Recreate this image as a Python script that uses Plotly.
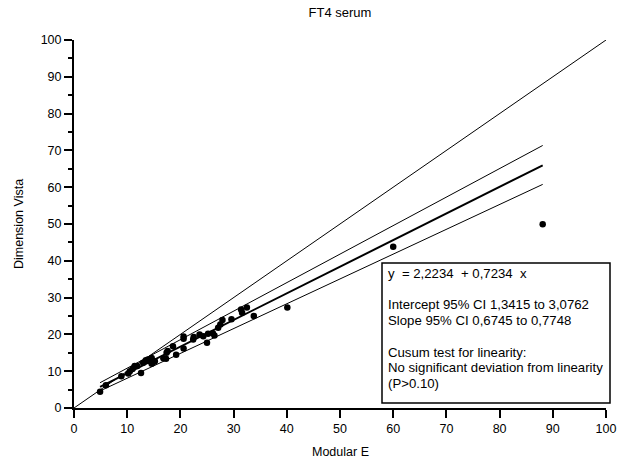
import plotly.graph_objects as go

modular_e = [4.9, 6.0, 8.9, 10.2, 10.5, 11.0, 11.4, 11.9, 12.6, 13.0, 13.5, 13.9,
             14.3, 14.6, 14.8, 15.2, 14.6, 16.8, 17.3, 17.4, 17.6, 18.6, 19.2,
             20.6, 20.6, 20.6, 22.4, 22.5, 23.6, 24.3, 25.0, 25.2, 26.1, 26.4,
             27.1, 27.5, 27.9, 29.6, 31.4, 31.6, 32.5, 33.8, 40.1, 60.0, 88.1]
dimension_vista = [4.4, 6.2, 8.6, 9.4, 10.0, 10.6, 11.4, 11.4, 9.5, 12.3, 13.0, 13.2,
                   12.7, 13.6, 12.3, 12.7, 12.0, 13.5, 13.4, 15.0, 15.5, 16.8, 14.5,
                   19.4, 18.8, 16.2, 18.6, 19.3, 20.0, 19.5, 17.7, 20.2, 20.3, 19.7,
                   21.8, 22.7, 23.9, 24.1, 26.8, 25.9, 27.3, 25.0, 27.3, 43.8, 49.9]

# regression: [estimate, CI low, CI high]
intercepts = [2.2234, 1.3415, 3.0762]
slopes = [0.7234, 0.6745, 0.7748]
identity_range = [0, 100]

x_ticks = list(range(0, 101, 10))
y_ticks = list(range(0, 101, 10))
y_minor_ticks = list(range(5, 100, 10))

box_lines = [
    "y  = 2,2234  + 0,7234  x",
    "",
    "Intercept 95% CI 1,3415 to 3,0762",
    "Slope 95% CI 0,6745 to 0,7748",
    "",
    "Cusum test for linearity:",
    "No significant deviation from linearity",
    "(P>0.10)",
]

FONT = "Liberation Sans, Arial, sans-serif"
W, H = 618, 462
L, R, T, B = 74, 606, 40, 408   # plot area in screen px


def px(xp):
    return (xp - L) / (R - L)


def py(yp):
    return (B - yp) / (B - T)


fig = go.Figure()

fig.add_trace(go.Scatter(x=identity_range, y=identity_range, mode="lines",
                         line=dict(color="black", width=1), showlegend=False,
                         hoverinfo="skip", cliponaxis=False))

xmin, xmax = min(modular_e), max(modular_e)
for i, (a, b) in enumerate(zip(intercepts, slopes)):
    fig.add_trace(go.Scatter(x=[xmin, xmax], y=[a + b * xmin, a + b * xmax],
                             mode="lines",
                             line=dict(color="black", width=2 if i == 0 else 1),
                             showlegend=False, hoverinfo="skip"))

fig.add_trace(go.Scatter(x=modular_e, y=dimension_vista, mode="markers",
                         marker=dict(color="black", size=6.5),
                         showlegend=False, cliponaxis=False))

axis_common = dict(
    range=[0, 100], showgrid=False, zeroline=False, automargin=False,
    showline=True, linecolor="black", linewidth=2,
    ticks="outside", ticklen=8, tickwidth=2, tickcolor="black",
    tickfont=dict(family=FONT, size=12.5, color="black"),
    ticklabeloverflow="allow",
    fixedrange=True,
)

fig.update_xaxes(**axis_common, tickvals=x_ticks)
fig.update_yaxes(**axis_common, tickvals=y_ticks,
                 minor=dict(tickvals=y_minor_ticks, ticks="outside",
                            ticklen=4, tickwidth=2, tickcolor="black"))

# axis titles
fig.add_annotation(xref="paper", yref="paper", x=px(340), y=py(452),
                   text="Modular E", showarrow=False, xanchor="center", yanchor="middle",
                   font=dict(family=FONT, size=12.5, color="black"))
fig.add_annotation(xref="paper", yref="paper", x=px(19), y=py(224),
                   text="Dimension Vista", showarrow=False, textangle=-90,
                   xanchor="center", yanchor="middle",
                   font=dict(family=FONT, size=12.5, color="black"))

# text box
fig.add_shape(type="rect", xref="paper", yref="paper",
              x0=px(382), x1=px(610), y0=py(403), y1=py(263),
              line=dict(color="black", width=1.5), fillcolor="white")
for i, line in enumerate(box_lines):
    if not line:
        continue
    fig.add_annotation(xref="paper", yref="paper",
                       x=px(386), y=py(273 + i * 15.8),
                       xanchor="left", yanchor="middle", align="left", showarrow=False,
                       text=line, font=dict(family=FONT, size=13.2, color="black"))

fig.update_layout(
    width=W, height=H,
    margin=dict(l=L, r=W - R, t=T, b=H - B),
    paper_bgcolor="white", plot_bgcolor="white",
    title=dict(text="FT4 serum", x=340 / W, xanchor="center",
               y=1 - 12 / H, yanchor="middle",
               font=dict(family=FONT, size=13, color="black")),
    font=dict(family=FONT, size=12, color="black"),
)

fig.write_html("out.html", config={"displayModeBar": False},
               post_script="document.body.style.margin='0';document.body.style.overflow='hidden';")
